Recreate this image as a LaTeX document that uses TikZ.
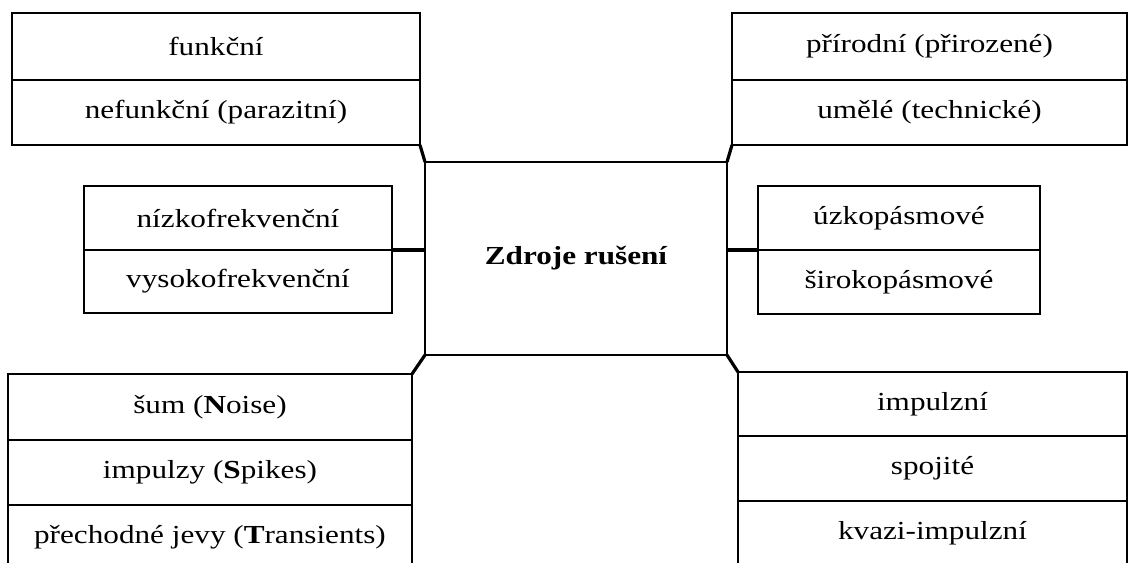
\documentclass[tikz,border=0pt]{standalone}
\usepackage{fontspec}
\setmainfont[FakeStretch=1.2]{Liberation Serif}
\begin{document}
\begin{tikzpicture}[x=1pt,y=-1pt,
  cell/.style={draw, line width=1.4pt, rectangle, inner sep=0pt, outer sep=0pt,
    anchor=north west, font=\fontsize{26}{30}\selectfont},
  hub/.style={cell, font=\fontsize{26}{30}\selectfont\bfseries},
  link/.style={line width=3.2pt}]
\useasboundingbox (0,0) rectangle (1139,562);
\clip (0,0) rectangle (1139,562);

% central node
\node[hub, minimum width=302pt, minimum height=193pt] (hub) at (425,162) {Zdroje rušení};

% upper left group
\node[cell, minimum width=408pt, minimum height=67pt] (tlA) at (12,13) {funkční};
\node[cell, minimum width=408pt, minimum height=65pt] (tlB) at (12,80) {nefunkční (parazitní)};

% upper right group
\node[cell, minimum width=395pt, minimum height=67pt] (trA) at (732,13) {přírodní (přirozené)};
\node[cell, minimum width=395pt, minimum height=65pt] (trB) at (732,80) {umělé (technické)};

% middle left group
\node[cell, minimum width=308pt, minimum height=64pt] (mlA) at (84,186) {nízkofrekvenční};
\node[cell, minimum width=308pt, minimum height=63pt] (mlB) at (84,250) {vysokofrekvenční};

% middle right group
\node[cell, minimum width=282pt, minimum height=64pt] (mrA) at (758,186) {úzkopásmové};
\node[cell, minimum width=282pt, minimum height=64pt] (mrB) at (758,250) {širokopásmové};

% lower left group
\node[cell, minimum width=404pt, minimum height=66pt] (blA) at (8,374) {šum (\textbf{N}oise)};
\node[cell, minimum width=404pt, minimum height=65pt] (blB) at (8,440) {impulzy (\textbf{S}pikes)};
\node[cell, minimum width=404pt, minimum height=65pt] (blC) at (8,505) {přechodné jevy (\textbf{T}ransients)};

% lower right group
\node[cell, minimum width=389pt, minimum height=64pt] (brA) at (738,372) {impulzní};
\node[cell, minimum width=389pt, minimum height=65pt] (brB) at (738,436) {spojité};
\node[cell, minimum width=389pt, minimum height=65pt] (brC) at (738,501) {kvazi-impulzní};

% connectors
\draw[link] (tlB.south east) -- (hub.north west);
\draw[link] (hub.north east) -- (trB.south west);
\draw[link] (hub.south west) -- (blA.north east);
\draw[link] (hub.south east) -- (brA.north west);
\draw[link] (mlA.south east) -- (mlA.south east -| hub.west);
\draw[link] (hub.east |- mrA.south west) -- (mrA.south west);
\end{tikzpicture}
\end{document}
